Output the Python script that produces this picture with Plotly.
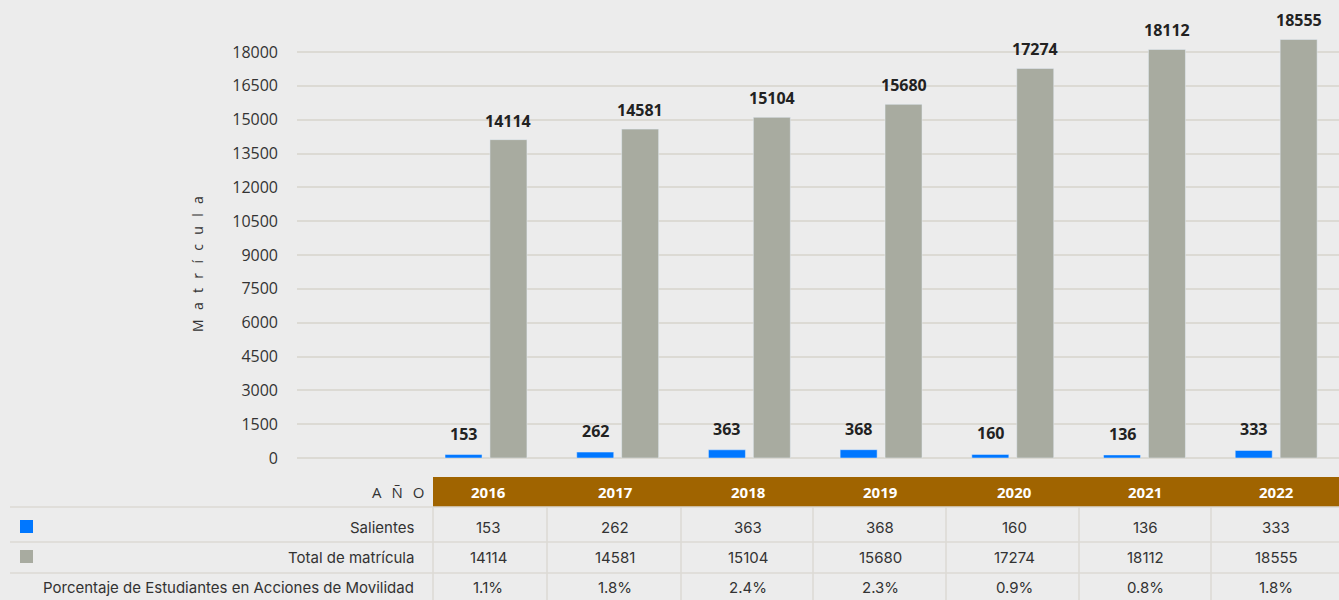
import plotly.graph_objects as go

years = ["2016", "2017", "2018", "2019", "2020", "2021", "2022"]
salientes = [153, 262, 363, 368, 160, 136, 333]
total_matricula = [14114, 14581, 15104, 15680, 17274, 18112, 18555]
porcentaje = ["1.1%", "1.8%", "2.4%", "2.3%", "0.9%", "0.8%", "1.8%"]
y_ticks = [0, 1500, 3000, 4500, 6000, 7500, 9000, 10500, 12000, 13500, 15000, 16500, 18000]
row_labels = ["Salientes", "Total de matrícula", "Porcentaje de Estudiantes en Acciones de Movilidad"]

BLUE = "#0077ff"
GRAY = "#a8aba0"
BROWN = "#a06400"
BG = "#ececec"
LINE = "#dcdad4"
TXT = "#333333"
FONT = "Open Sans"
TFONT = "Inter"

W, H = 1339, 600
ML, MR, MT = 297, 0, 10
PLOT_BOTTOM = 458
MB = H - PLOT_BOTTOM
plot_w = W - ML - MR
plot_h = PLOT_BOTTOM - MT

BAR_W = 0.281
OFF_BLUE = -0.311
OFF_GRAY = 0.030


def px(x):
    return (x - ML) / plot_w


def py(y):
    return (PLOT_BOTTOM - y) / plot_h


xs = list(range(len(years)))

fig = go.Figure()
fig.add_trace(go.Bar(
    x=xs, y=salientes, name="Salientes", marker_color=BLUE,
    width=BAR_W, offset=OFF_BLUE,
))
fig.add_trace(go.Bar(
    x=xs, y=total_matricula, name="Total de matrícula", marker_color=GRAY,
    width=BAR_W, offset=OFF_GRAY,
))

ymax = plot_h / (406 / 18000)

fig.update_layout(
    width=W, height=H,
    margin=dict(l=ML, r=MR, t=MT, b=MB, pad=0),
    paper_bgcolor=BG, plot_bgcolor=BG,
    showlegend=False,
    barmode="overlay",
    font=dict(family=FONT, color=TXT),
    xaxis=dict(range=[-1.435, 6.477], showticklabels=False, showgrid=False,
               zeroline=False, showline=False, fixedrange=True),
    yaxis=dict(range=[0, ymax], tickvals=y_ticks, ticktext=[str(v) for v in y_ticks],
               showgrid=True, gridcolor=LINE, gridwidth=1.5,
               zeroline=True, zerolinecolor=LINE, zerolinewidth=1.5,
               showline=False, ticks="", ticklabelstandoff=18,
               tickfont=dict(family=FONT, size=16, color=TXT)),
)

shapes = []
annotations = []

# value labels above bars
lab_font = dict(family=FONT, size=16, color="#222222", weight="bold")
for i in xs:
    annotations.append(dict(
        text=str(salientes[i]), x=i + OFF_BLUE + BAR_W / 2, y=salientes[i],
        xref="x", yref="y", showarrow=False, xanchor="center", yanchor="bottom",
        yshift=8, font=lab_font,
    ))
    annotations.append(dict(
        text=str(total_matricula[i]), x=i + OFF_GRAY + BAR_W / 2, y=total_matricula[i],
        xref="x", yref="y", showarrow=False, xanchor="center", yanchor="bottom",
        yshift=6, font=lab_font,
    ))

SP = "\u2002\u2009"
# y-axis title
annotations.append(dict(
    text=SP.join("Matrícula"), x=px(197), y=py(264), xref="paper", yref="paper",
    textangle=-90, showarrow=False, font=dict(family=FONT, size=14, color=TXT),
    xanchor="center", yanchor="middle",
))

# header band
shapes.append(dict(type="rect", xref="paper", yref="paper",
                   x0=px(433), x1=px(W), y0=py(507), y1=py(477),
                   fillcolor=BROWN, line=dict(width=0), layer="above"))
annotations.append(dict(
    text=SP.join("AÑO"), x=px(426), y=py(492), xref="paper", yref="paper",
    showarrow=False, xanchor="right", yanchor="middle",
    font=dict(family=FONT, size=15, color=TXT),
))

# horizontal rules
for yy in [507, 542, 573]:
    shapes.append(dict(type="line", xref="paper", yref="paper",
                       x0=px(10), x1=px(W), y0=py(yy), y1=py(yy),
                       line=dict(color=LINE, width=1.5), layer="above"))
# vertical rules
for xx in [433, 547, 681, 813, 946, 1079, 1211]:
    shapes.append(dict(type="line", xref="paper", yref="paper",
                       x0=px(xx), x1=px(xx), y0=py(507), y1=py(H),
                       line=dict(color=LINE, width=1.5), layer="above"))

# legend squares
shapes.append(dict(type="rect", xref="paper", yref="paper",
                   x0=px(20), x1=px(33), y0=py(533), y1=py(520),
                   fillcolor=BLUE, line=dict(width=0), layer="above"))
shapes.append(dict(type="rect", xref="paper", yref="paper",
                   x0=px(20), x1=px(33), y0=py(563), y1=py(550),
                   fillcolor=GRAY, line=dict(width=0), layer="above"))

row_y = [527, 557, 587]
for lbl, ry in zip(row_labels, row_y):
    annotations.append(dict(
        text=lbl, x=px(416), y=py(ry), xref="paper", yref="paper",
        showarrow=False, xanchor="right", yanchor="middle",
        font=dict(family=TFONT, size=15, color=TXT),
    ))

col_centers = [488, 615, 748, 880, 1014, 1145, 1276]
for i, yr in enumerate(years):
    cx = px(col_centers[i])
    annotations.append(dict(
        text=yr, x=cx, y=py(492), xref="paper", yref="paper", showarrow=False,
        xanchor="center", yanchor="middle",
        font=dict(family=FONT, size=15, color="white", weight="bold"),
    ))
    for vals, ry in zip([salientes, total_matricula, porcentaje], row_y):
        annotations.append(dict(
            text=str(vals[i]), x=cx, y=py(ry), xref="paper", yref="paper",
            showarrow=False, xanchor="center", yanchor="middle",
            font=dict(family=TFONT, size=15, color=TXT),
        ))

fig.update_layout(shapes=shapes, annotations=annotations)
fig.write_html("out.html", config={"displayModeBar": False},
               post_script="document.body.style.margin='0';document.body.style.background='#ececec';")
